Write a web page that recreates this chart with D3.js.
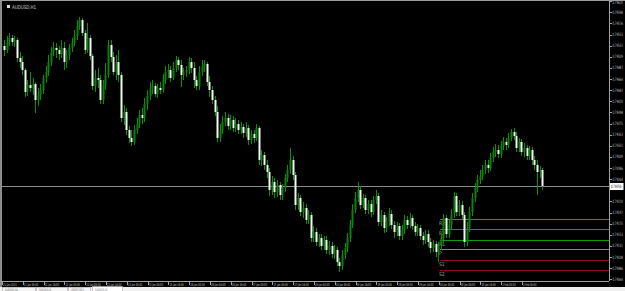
<!DOCTYPE html>
<html>
<head>
<meta charset="utf-8">
<script src="https://cdn.jsdelivr.net/npm/d3@7"></script>
<style>
body { margin: 0; background: #000; overflow: hidden; }
svg { display: block; }
text { font-family: "DejaVu Sans", sans-serif; }
</style>
</head>
<body>
<div id="chart"></div>
<script>
// AUDUSD H1 bars (open of each bar = previous close)
var firstOpen = 0.79530;

var closes = [
  0.79522,0.79538,0.79546,0.79538,0.79542,0.79506,0.79498,0.79482,0.79438,0.79452,0.79446,0.79454,0.79422,0.79432,0.79442,0.79466,
  0.79478,0.79498,0.79518,0.79526,0.79522,0.79514,0.79526,0.79498,0.79512,0.79526,0.79536,0.79550,0.79570,0.79582,0.79556,0.79522,
  0.79546,0.79510,0.79450,0.79466,0.79462,0.79422,0.79452,0.79472,0.79532,0.79508,0.79478,0.79498,0.79472,0.79386,0.79398,0.79362,
  0.79346,0.79338,0.79362,0.79374,0.79392,0.79386,0.79414,0.79430,0.79446,0.79450,0.79434,0.79446,0.79442,0.79462,0.79478,0.79482,
  0.79466,0.79486,0.79502,0.79492,0.79472,0.79478,0.79482,0.79498,0.79486,0.79462,0.79450,0.79478,0.79490,0.79494,0.79458,0.79442,
  0.79422,0.79398,0.79346,0.79362,0.79378,0.79386,0.79370,0.79382,0.79366,0.79374,0.79362,0.79368,0.79356,0.79366,0.79342,0.79354,
  0.79346,0.79366,0.79302,0.79312,0.79292,0.79278,0.79242,0.79258,0.79238,0.79252,0.79232,0.79246,0.79266,0.79282,0.79302,0.79272,
  0.79212,0.79226,0.79198,0.79206,0.79182,0.79192,0.79146,0.79158,0.79138,0.79146,0.79130,0.79142,0.79122,0.79130,0.79114,0.79122,
  0.79098,0.79090,0.79112,0.79126,0.79146,0.79172,0.79202,0.79226,0.79242,0.79212,0.79226,0.79202,0.79214,0.79198,0.79222,0.79230,
  0.79178,0.79192,0.79166,0.79178,0.79194,0.79172,0.79158,0.79170,0.79150,0.79162,0.79182,0.79172,0.79186,0.79170,0.79158,0.79166,
  0.79150,0.79142,0.79154,0.79138,0.79126,0.79134,0.79118,0.79130,0.79146,0.79186,0.79154,0.79172,0.79194,0.79230,0.79198,0.79212,
  0.79192,0.79138,0.79166,0.79198,0.79226,0.79246,0.79262,0.79270,0.79282,0.79292,0.79286,0.79306,0.79318,0.79322,0.79314,0.79330,
  0.79338,0.79332,0.79346,0.79358,0.79350,0.79326,0.79338,0.79318,0.79326,0.79310,0.79322,0.79302,0.79292,0.79278,0.79282,0.79250
];

var highs = [
  0.79542,0.79550,0.79556,0.79552,0.79550,0.79546,0.79518,0.79510,0.79486,0.79462,0.79478,0.79466,0.79458,0.79446,0.79454,0.79472,
  0.79490,0.79512,0.79528,0.79538,0.79536,0.79530,0.79542,0.79538,0.79522,0.79534,0.79546,0.79562,0.79582,0.79588,0.79586,0.79562,
  0.79576,0.79552,0.79514,0.79482,0.79486,0.79472,0.79462,0.79496,0.79542,0.79542,0.79518,0.79512,0.79522,0.79478,0.79412,0.79406,
  0.79370,0.79362,0.79372,0.79386,0.79402,0.79406,0.79426,0.79442,0.79458,0.79462,0.79456,0.79454,0.79458,0.79474,0.79490,0.79494,
  0.79490,0.79498,0.79510,0.79508,0.79502,0.79486,0.79490,0.79508,0.79506,0.79498,0.79470,0.79490,0.79502,0.79502,0.79498,0.79470,
  0.79450,0.79430,0.79410,0.79374,0.79390,0.79398,0.79394,0.79392,0.79390,0.79386,0.79382,0.79378,0.79374,0.79378,0.79372,0.79362,
  0.79362,0.79374,0.79370,0.79322,0.79318,0.79302,0.79286,0.79270,0.79266,0.79262,0.79258,0.79254,0.79274,0.79292,0.79326,0.79310,
  0.79278,0.79236,0.79232,0.79218,0.79214,0.79202,0.79198,0.79170,0.79166,0.79154,0.79154,0.79150,0.79150,0.79140,0.79138,0.79132,
  0.79128,0.79106,0.79122,0.79136,0.79156,0.79182,0.79214,0.79238,0.79258,0.79250,0.79234,0.79232,0.79222,0.79222,0.79230,0.79242,
  0.79236,0.79202,0.79198,0.79188,0.79206,0.79202,0.79180,0.79178,0.79176,0.79172,0.79192,0.79190,0.79196,0.79192,0.79178,0.79174,
  0.79172,0.79158,0.79162,0.79162,0.79146,0.79142,0.79140,0.79138,0.79154,0.79194,0.79192,0.79182,0.79204,0.79238,0.79236,0.79222,
  0.79220,0.79198,0.79178,0.79208,0.79236,0.79256,0.79272,0.79282,0.79292,0.79302,0.79302,0.79316,0.79328,0.79334,0.79332,0.79340,
  0.79348,0.79346,0.79356,0.79364,0.79366,0.79358,0.79346,0.79344,0.79336,0.79332,0.79330,0.79328,0.79310,0.79302,0.79290,0.79286
];

var lows = [
  0.79510,0.79516,0.79530,0.79530,0.79528,0.79498,0.79486,0.79472,0.79428,0.79430,0.79438,0.79432,0.79396,0.79410,0.79422,0.79434,
  0.79456,0.79470,0.79490,0.79510,0.79506,0.79502,0.79506,0.79482,0.79486,0.79502,0.79518,0.79530,0.79542,0.79562,0.79550,0.79514,
  0.79516,0.79502,0.79442,0.79438,0.79446,0.79414,0.79414,0.79442,0.79466,0.79498,0.79472,0.79462,0.79458,0.79378,0.79372,0.79352,
  0.79336,0.79330,0.79332,0.79354,0.79366,0.79374,0.79378,0.79402,0.79422,0.79434,0.79428,0.79426,0.79434,0.79436,0.79454,0.79466,
  0.79458,0.79462,0.79478,0.79482,0.79448,0.79462,0.79468,0.79474,0.79476,0.79446,0.79442,0.79442,0.79470,0.79478,0.79450,0.79428,
  0.79414,0.79390,0.79338,0.79338,0.79354,0.79370,0.79362,0.79362,0.79358,0.79358,0.79354,0.79354,0.79346,0.79348,0.79332,0.79334,
  0.79336,0.79340,0.79292,0.79290,0.79282,0.79266,0.79230,0.79232,0.79226,0.79228,0.79222,0.79222,0.79238,0.79258,0.79274,0.79262,
  0.79202,0.79202,0.79190,0.79186,0.79174,0.79174,0.79138,0.79138,0.79130,0.79128,0.79122,0.79122,0.79114,0.79112,0.79106,0.79104,
  0.79090,0.79078,0.79082,0.79104,0.79118,0.79138,0.79166,0.79196,0.79218,0.79204,0.79206,0.79194,0.79194,0.79188,0.79192,0.79214,
  0.79170,0.79170,0.79156,0.79158,0.79170,0.79164,0.79146,0.79150,0.79142,0.79142,0.79154,0.79164,0.79166,0.79162,0.79150,0.79150,
  0.79142,0.79132,0.79134,0.79128,0.79116,0.79118,0.79108,0.79098,0.79122,0.79138,0.79146,0.79146,0.79164,0.79186,0.79190,0.79190,
  0.79182,0.79128,0.79130,0.79158,0.79190,0.79218,0.79238,0.79254,0.79262,0.79274,0.79276,0.79280,0.79298,0.79308,0.79306,0.79306,
  0.79322,0.79322,0.79326,0.79340,0.79342,0.79318,0.79318,0.79310,0.79308,0.79302,0.79302,0.79292,0.79282,0.79232,0.79266,0.79242
];

var priceTicks = [
  0.79620,0.79598,0.79576,0.79553,0.79531,0.79509,0.79487,0.79464,0.79442,0.79420,0.79398,0.79375,0.79353,
  0.79331,0.79309,0.79286,0.79264,0.79242,0.79220,0.79197,0.79175,0.79153,0.79131,0.79108,0.79086,0.79064
];

var timeLabels = [
  "21 Jan 2015","21 Jan 08:00","21 Jan 16:00","22 Jan 00:00","22 Jan 08:00","22 Jan 16:00","23 Jan 00:00",
  "23 Jan 08:00","23 Jan 16:00","26 Jan 00:00","26 Jan 08:00","26 Jan 16:00","27 Jan 00:00","27 Jan 08:00",
  "27 Jan 16:00","28 Jan 00:00","28 Jan 08:00","28 Jan 16:00","29 Jan 00:00","29 Jan 08:00","29 Jan 16:00",
  "30 Jan 00:00","30 Jan 08:00","30 Jan 16:00","2 Feb 00:00","2 Feb 08:00"
];
var barsPerLabel = 8;

var pivotNames = ["R3", "R2", "R1", "P", "S1", "S2"];
var pivotValues = [0.79184, 0.79164, 0.79142, 0.79124, 0.79102, 0.79082];
var pivotColors = ["#4f7f4f", "#2f8a2f", "#0c9c0c", "#8a8a8a", "#8c0a1c", "#8c0a1c"];

var symbol = "AUDUSD,H1";
var tabNames = ["AUDUSD,H4", "EURUSD,H1", "USDJPY,M15", "AUDUSD,H1"];

var width = 625;
var height = 291;
var plot = { left: 2, right: 609, top: 1, bottom: 281 };

var svg = d3.select('#chart')
  .append('svg')
  .attr('width', width)
  .attr('height', height);

svg.append('rect')
  .attr('width', width)
  .attr('height', height)
  .attr('fill', '#000');

var x = d3.scaleLinear()
  .domain([0, closes.length - 1])
  .range([4, 542.2]);

var y = d3.scaleLinear()
  .domain([0.79622, 0.79060])
  .range([0, 281]);

var fmt = d3.format('.5f');
var lastPrice = closes[closes.length - 1];
var bidY = Math.round(y(lastPrice)) + 0.5;

// terminal fonts are tiny and condensed: squeeze text horizontally
function squeezed(tx, ty, sx) {
  return 'translate(' + tx + ',' + ty + ') scale(' + sx + ',1)';
}

// frame
svg.append('rect')
  .attr('x', 0).attr('y', 0)
  .attr('width', 2).attr('height', 287)
  .attr('fill', '#8c8c8c');
svg.append('line')
  .attr('x1', 0).attr('x2', width)
  .attr('y1', 0.5).attr('y2', 0.5)
  .attr('stroke', '#9a9a9a');

// current price line
svg.append('line')
  .attr('x1', plot.left).attr('x2', plot.right)
  .attr('y1', bidY).attr('y2', bidY)
  .attr('stroke', '#8a8a8a')
  .attr('stroke-width', 1);

// pivot levels
var pivots = svg.append('g').attr('class', 'pivots');
pivots.selectAll('line')
  .data(pivotValues)
  .enter()
  .append('line')
  .attr('x1', 440).attr('x2', plot.right)
  .attr('y1', function(d) { return Math.round(y(d)) + 0.5; })
  .attr('y2', function(d) { return Math.round(y(d)) + 0.5; })
  .attr('stroke', function(d, i) { return pivotColors[i]; });
pivots.selectAll('text')
  .data(pivotValues)
  .enter()
  .append('text')
  .attr('transform', function(d) { return squeezed(439, y(d) + 5.5, 0.9); })
  .attr('font-size', '5px')
  .attr('fill', '#9a9a9a')
  .text(function(d, i) { return pivotNames[i]; });

// candles
var bars = closes.map(function(c, i) {
  var o = i === 0 ? firstOpen : closes[i - 1];
  return { i: i, open: o, close: c, high: highs[i], low: lows[i] };
});

var candles = svg.append('g').attr('class', 'candles');

candles.selectAll('.wick')
  .data(bars)
  .enter()
  .append('line')
  .attr('class', 'wick')
  .attr('x1', function(d) { return Math.round(x(d.i)) + 0.5; })
  .attr('x2', function(d) { return Math.round(x(d.i)) + 0.5; })
  .attr('y1', function(d) { return y(Math.max(d.high, d.open, d.close)); })
  .attr('y2', function(d) { return y(Math.min(d.low, d.open, d.close)); })
  .attr('stroke', '#089008')
  .attr('stroke-width', 1);

candles.selectAll('.body')
  .data(bars)
  .enter()
  .append('rect')
  .attr('class', 'body')
  .attr('x', function(d) { return Math.round(x(d.i)) - 0.5; })
  .attr('width', 2)
  .attr('y', function(d) { return y(Math.max(d.open, d.close)); })
  .attr('height', function(d) { return Math.max(1, Math.abs(y(d.open) - y(d.close))); })
  .attr('fill', function(d) { return d.close < d.open ? '#eefcee' : '#0a820a'; });

// price axis
svg.append('line')
  .attr('x1', plot.right + 0.5).attr('x2', plot.right + 0.5)
  .attr('y1', 0).attr('y2', plot.bottom)
  .attr('stroke', '#a0a0a0');

var yTicks = svg.append('g').attr('class', 'y axis');
var shownTicks = priceTicks.filter(function(p) { return Math.abs(y(p) - bidY) > 6; });
yTicks.selectAll('line')
  .data(shownTicks)
  .enter()
  .append('line')
  .attr('x1', plot.right).attr('x2', plot.right + 3)
  .attr('y1', function(d) { return Math.round(y(d)) + 0.5; })
  .attr('y2', function(d) { return Math.round(y(d)) + 0.5; })
  .attr('stroke', '#a0a0a0');
yTicks.selectAll('text')
  .data(shownTicks)
  .enter()
  .append('text')
  .attr('transform', function(d) { return squeezed(plot.right + 3.5, Math.max(y(d) + 1.8, 4), 0.55); })
  .attr('font-size', '4.5px')
  .attr('fill', '#c8c8c8')
  .text(fmt);

// bid label
svg.append('rect')
  .attr('x', plot.right + 1).attr('y', bidY - 3.5)
  .attr('width', 13.5).attr('height', 7)
  .attr('fill', '#fff');
svg.append('text')
  .attr('transform', squeezed(plot.right + 2, bidY + 1.8, 0.55))
  .attr('font-size', '4.5px')
  .attr('fill', '#000')
  .text(fmt(lastPrice));

// time axis
svg.append('line')
  .attr('x1', 0).attr('x2', plot.right)
  .attr('y1', plot.bottom + 0.5).attr('y2', plot.bottom + 0.5)
  .attr('stroke', '#a0a0a0');

var xTicks = svg.append('g').attr('class', 'x axis');
xTicks.selectAll('line')
  .data(timeLabels)
  .enter()
  .append('line')
  .attr('x1', function(d, i) { return Math.round(x(i * barsPerLabel)) - 1.5; })
  .attr('x2', function(d, i) { return Math.round(x(i * barsPerLabel)) - 1.5; })
  .attr('y1', plot.bottom).attr('y2', plot.bottom + 4)
  .attr('stroke', '#a0a0a0');
xTicks.selectAll('text')
  .data(timeLabels)
  .enter()
  .append('text')
  .attr('transform', function(d, i) { return squeezed(x(i * barsPerLabel) - 1, 285.8, 0.6); })
  .attr('font-size', '3.8px')
  .attr('fill', '#c8c8c8')
  .text(function(d) { return d; });

// symbol title
svg.append('rect')
  .attr('x', 7).attr('y', 5)
  .attr('width', 3).attr('height', 3)
  .attr('fill', '#e0e0e0');
svg.append('text')
  .attr('transform', squeezed(12, 9, 0.8))
  .attr('font-size', '5px')
  .attr('fill', '#d0d0d0')
  .text(symbol);

// chart tabs
svg.append('rect')
  .attr('x', 0).attr('y', 287)
  .attr('width', width).attr('height', 4)
  .attr('fill', '#f0f0f0');

var tabX = [2, 36, 68, 92];
var tabW = [33, 31, 22, 30];
var tabs = svg.append('g').attr('class', 'tabs');
tabs.selectAll('rect')
  .data(tabNames)
  .enter()
  .append('rect')
  .attr('x', function(d, i) { return tabX[i] + 0.5; })
  .attr('y', function(d, i) { return i === 3 ? 286.5 : 287.5; })
  .attr('width', function(d, i) { return tabW[i]; })
  .attr('height', 5)
  .attr('fill', function(d, i) { return i === 3 ? '#fff' : '#f4f4f4'; })
  .attr('stroke', '#a8a8a8')
  .attr('stroke-width', 0.6);
tabs.selectAll('text')
  .data(tabNames)
  .enter()
  .append('text')
  .attr('transform', function(d, i) { return squeezed(tabX[i] + 3, 290.5, 0.6); })
  .attr('font-size', '3.5px')
  .attr('fill', '#707070')
  .text(function(d) { return d; });
</script>
</body>
</html>
